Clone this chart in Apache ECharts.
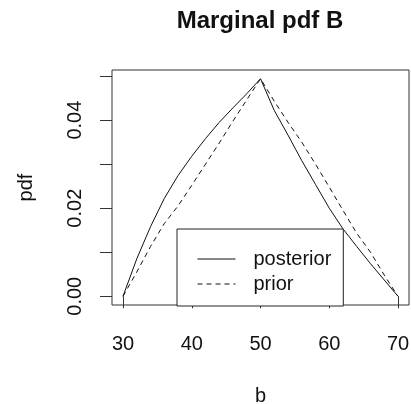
<!DOCTYPE html>
<html>
<head>
<meta charset="utf-8">
<script src="https://cdn.jsdelivr.net/npm/echarts@6/dist/echarts.min.js"></script>
<style>
  html, body { margin: 0; padding: 0; background: #fff; }
  #chart { width: 411px; height: 404px; }
</style>
</head>
<body>
<div id="chart"></div>
<script>
(() => {
    'use strict'

    const bValues = [30, 32, 34, 36, 38, 40, 42, 44, 46, 48, 50, 52, 54, 56, 58, 60, 62, 64, 66, 68, 70]
    const posterior = [0, 0.0085, 0.0158, 0.0222, 0.0274, 0.0318, 0.0358, 0.0395, 0.0428, 0.0460, 0.0494,
        0.0422, 0.0366, 0.0308, 0.0254, 0.0200, 0.0153, 0.0113, 0.0074, 0.0037, 0]
    const prior = [0, 0.0055, 0.0113, 0.0165, 0.0205, 0.0252, 0.0300, 0.0348, 0.0398, 0.0446, 0.0494,
        0.0443, 0.0395, 0.0350, 0.0300, 0.0248, 0.0195, 0.0143, 0.0100, 0.0048, 0]
    const xTicks = [30, 40, 50, 60, 70]
    const yTicks = [0, 0.01, 0.02, 0.03, 0.04, 0.05]
    const yLabels = [0, 0.02, 0.04]

    const font = 'Liberation Sans, Arial, sans-serif'
    const ink = '#111'

    const pairs = ys => bValues.map((b, i) => [b, ys[i]])

    const chart = echarts.init(document.getElementById('chart'))

    chart.setOption({
        animation: false,
        backgroundColor: '#fff',
        textStyle: {fontFamily: font, color: ink},
        graphic: [{
            type: 'text',
            x: 260,
            y: 21,
            style: {
                text: 'Marginal pdf B',
                fontFamily: font,
                fontSize: 24,
                fontWeight: 'bold',
                fill: ink,
                textAlign: 'center',
                textVerticalAlign: 'middle'
            }
        }],
        grid: {
            left: 112,
            right: 2,
            top: 70,
            bottom: 99,
            outerBoundsMode: 'none',
            containLabel: false,
            show: true,
            borderColor: '#333',
            borderWidth: 1,
            backgroundColor: 'transparent'
        },
        xAxis: {
            type: 'value',
            min: 28.4,
            max: 71.6,
            name: 'b',
            nameLocation: 'middle',
            nameGap: 81,
            nameTextStyle: {fontSize: 20, color: ink, fontFamily: font},
            axisLine: {show: false},
            splitLine: {show: false},
            axisTick: {
                show: true,
                length: 12,
                customValues: xTicks,
                lineStyle: {color: '#333', width: 1}
            },
            axisLabel: {
                customValues: xTicks,
                fontSize: 20,
                color: ink,
                margin: 29
            }
        },
        yAxis: {
            type: 'value',
            min: -0.00198,
            max: 0.05138,
            name: 'pdf',
            nameLocation: 'middle',
            nameGap: 76,
            nameRotate: 90,
            nameTextStyle: {fontSize: 20, color: ink, fontFamily: font},
            axisLine: {show: false},
            splitLine: {show: false},
            axisTick: {
                show: true,
                length: 12,
                customValues: yTicks,
                lineStyle: {color: '#333', width: 1}
            },
            axisLabel: {
                customValues: yLabels,
                rotate: 90,
                fontSize: 20,
                color: ink,
                margin: 27,
                formatter: v => v.toFixed(2)
            }
        },
        legend: {
            show: true,
            orient: 'vertical',
            left: 177,
            top: 229,
            padding: [20, 12, 12, 20],
            itemWidth: 38,
            itemHeight: 14,
            itemGap: 5,
            itemStyle: {opacity: 0},
            lineStyle: {width: 1},
            borderColor: '#222',
            borderWidth: 1,
            borderRadius: 0,
            backgroundColor: '#fff',
            textStyle: {fontSize: 20, color: ink, fontFamily: font, padding: [0, 0, 0, 13]},
            data: ['posterior', 'prior']
        },
        series: [
            {
                name: 'posterior',
                type: 'line',
                symbol: 'none',
                lineStyle: {color: ink, width: 1, type: 'solid'},
                itemStyle: {color: ink},
                data: pairs(posterior)
            },
            {
                name: 'prior',
                type: 'line',
                symbol: 'none',
                lineStyle: {color: ink, width: 1, type: [5, 4]},
                itemStyle: {color: ink},
                data: pairs(prior)
            }
        ]
    })
})()
</script>
</body>
</html>
